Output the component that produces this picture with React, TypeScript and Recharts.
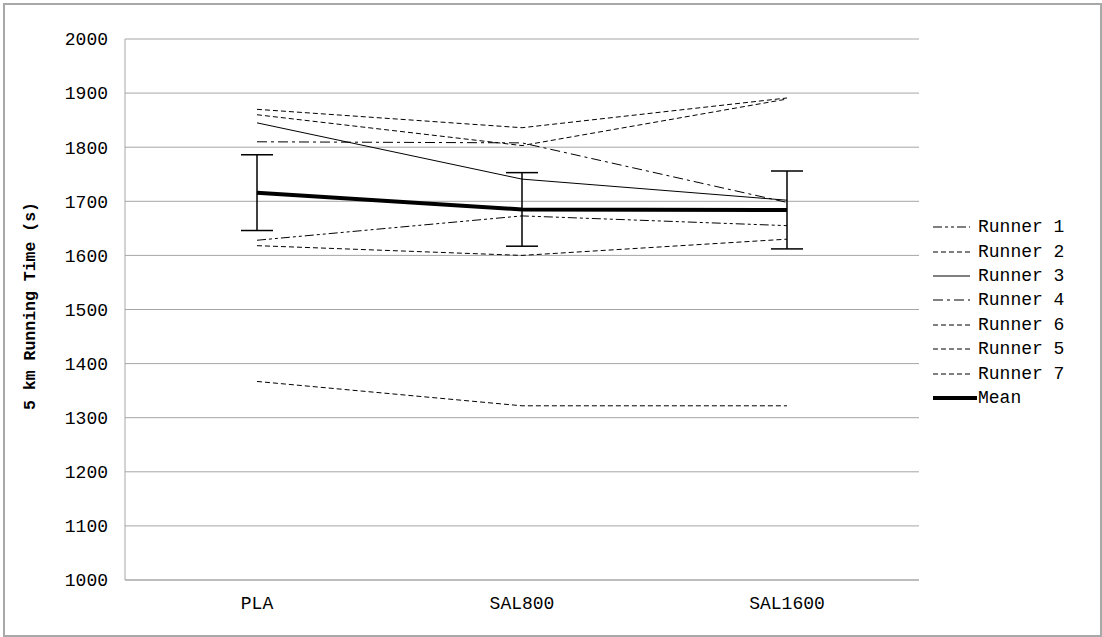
import { LineChart, Line, XAxis, YAxis, CartesianGrid, Legend, ErrorBar } from 'recharts'

const conditions = ['PLA', 'SAL800', 'SAL1600']
const runner1 = [1628, 1673, 1655]
const runner2 = [1870, 1836, 1891]
const runner3 = [1845, 1741, 1702]
const runner4 = [1810, 1808, 1698]
const runner5 = [1860, 1803, 1889]
const runner6 = [1618, 1600, 1630]
const runner7 = [1367, 1322, 1322]
const meanTime = [1716, 1685, 1684]
const meanSd = [70, 68, 72]
const yTicks = [1000, 1100, 1200, 1300, 1400, 1500, 1600, 1700, 1800, 1900, 2000]

const FONT = '"Liberation Mono", monospace'
const GRID = '#a6a6a6'

// line styles, in the order the legend lists them
const series = [
  { key: 'r1', name: 'Runner 1', values: runner1, dash: '9 3 3 3 3 3', width: 1 },
  { key: 'r2', name: 'Runner 2', values: runner2, dash: '5 3', width: 1 },
  { key: 'r3', name: 'Runner 3', values: runner3, dash: undefined, width: 1 },
  { key: 'r4', name: 'Runner 4', values: runner4, dash: '10 4 3 4', width: 1 },
  { key: 'r6', name: 'Runner 6', values: runner6, dash: '5 3', width: 1 },
  { key: 'r5', name: 'Runner 5', values: runner5, dash: '5 3', width: 1 },
  { key: 'r7', name: 'Runner 7', values: runner7, dash: '5 3', width: 1 },
]

const data = conditions.map((c, i) => {
  const row: Record<string, string | number> = { condition: c, mean: meanTime[i], sd: meanSd[i] }
  series.forEach(s => {
    row[s.key] = s.values[i]
  })
  return row
})

const legendItems = [
  ...series.map(s => ({ name: s.name, dash: s.dash, width: s.width, len: 37 })),
  { name: 'Mean', dash: undefined, width: 4, len: 44 },
]

const renderLegend = () => (
  <div style={{ fontFamily: FONT, fontSize: 18, color: '#000' }}>
    {legendItems.map(item => (
      <div key={item.name} style={{ display: 'flex', alignItems: 'center', height: 24.4 }}>
        <svg width={45} height={10} style={{ display: 'block' }}>
          <line x1={0} y1={5} x2={item.len} y2={5} stroke="#000" strokeWidth={item.width} strokeDasharray={item.dash} />
        </svg>
        <span style={{ whiteSpace: 'pre', lineHeight: '24px' }}>{item.name}</span>
      </div>
    ))}
  </div>
)

const renderYLabel = () => (
  <text
    x={30}
    y={306}
    transform="rotate(-90 30 306)"
    textAnchor="middle"
    dominantBaseline="central"
    fontFamily={FONT}
    fontWeight="bold"
    fontSize={16.5}
    fill="#000"
  >
    5 km Running Time (s)
  </text>
)

export default function App() {
  return (
    <div style={{ position: 'absolute', left: 0, top: 0, width: 1102, height: 637, background: '#fff' }}>
      <div
        style={{
          position: 'absolute',
          left: 3,
          top: 3,
          width: 1095,
          height: 630,
          border: '2px solid #a8a8a8',
        }}
      />
      <LineChart width={1102} height={637} data={data} margin={{ top: 39, right: 183, bottom: 0, left: 0 }}>
        <CartesianGrid vertical={false} stroke={GRID} />
        <XAxis
          dataKey="condition"
          padding={{ left: 132, right: 132 }}
          height={57}
          tickLine={false}
          tickSize={0}
          tickMargin={16}
          axisLine={{ stroke: GRID }}
          tick={{ fill: '#000', fontFamily: FONT, fontSize: 18 }}
        />
        <YAxis
          domain={[1000, 2000]}
          ticks={yTicks}
          interval={0}
          width={125}
          tickLine={false}
          tickSize={0}
          tickMargin={17}
          axisLine={{ stroke: GRID }}
          tick={{ fill: '#000', fontFamily: FONT, fontSize: 18 }}
          label={renderYLabel}
        />
        <Legend
          layout="vertical"
          align="center"
          verticalAlign="middle"
          content={renderLegend}
          wrapperStyle={{ left: 933, top: 215, width: 165 }}
        />
        {series.map(s => (
          <Line
            key={s.key}
            dataKey={s.key}
            name={s.name}
            stroke="#000"
            strokeWidth={s.width}
            strokeDasharray={s.dash}
            dot={false}
            activeDot={false}
            isAnimationActive={false}
          />
        ))}
        <Line
          dataKey="mean"
          name="Mean"
          stroke="#000"
          strokeWidth={4}
          dot={false}
          activeDot={false}
          isAnimationActive={false}
        >
          <ErrorBar dataKey="sd" direction="y" width={16} stroke="#000" strokeWidth={1.5} isAnimationActive={false} />
        </Line>
      </LineChart>
    </div>
  )
}
